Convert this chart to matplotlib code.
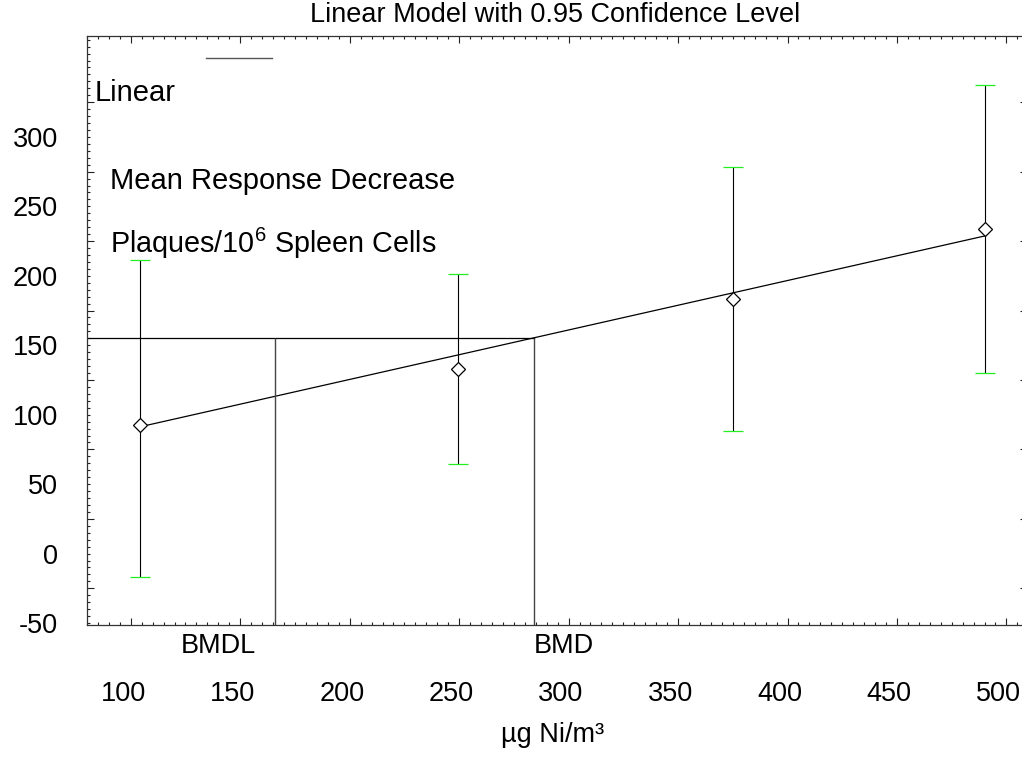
import numpy as np
import matplotlib
matplotlib.use('Agg')
import matplotlib.pyplot as plt

plt.rcParams['font.family'] = ['Liberation Sans', 'DejaVu Sans']
plt.rcParams['mathtext.fontset'] = 'custom'
plt.rcParams['mathtext.rm'] = 'Liberation Sans'
plt.rcParams['mathtext.default'] = 'regular'
plt.rcParams['axes.unicode_minus'] = False

# data
dose = [107.5, 253.1, 378.6, 493.6]
mean = [92.6, 132.9, 183.3, 233.7]
lower = [-16.9, 64.5, 88.3, 130.0]
upper = [211.4, 201.3, 278.4, 337.4]

fit_x = [107.5, 493.6]
fit_y = [91.2, 228.7]

bmdl = 169.6
bmd = 287.8
bmr_level = 155.3

xticks = [100, 150, 200, 250, 300, 350, 400, 450, 500]
yticks = [-50, 0, 50, 100, 150, 200, 250, 300]

fig = plt.figure(figsize=(10.22, 7.57), dpi=100)
ax = fig.add_axes([0.0851, 0.1744, 0.9198, 0.7781])
ax.set_xlim(83.8, 512.9)
ax.set_ylim(-51.4, 372.7)

dose = np.array(dose)
mean = np.array(mean)
yerr = [mean - np.array(lower), np.array(upper) - mean]

eb = ax.errorbar(dose, mean, yerr=yerr, fmt='D', mfc='white', mec='black',
                 ms=7.5, mew=0.9, ecolor='black', elinewidth=0.8,
                 capsize=7.2, capthick=0.9, zorder=3)
for cap in eb[1]:
    cap.set_markeredgecolor('#22ee22')

ax.plot(fit_x, fit_y, color='black', lw=0.9)

# BMD / BMDL markers
ax.plot([ax.get_xlim()[0], bmd], [bmr_level, bmr_level], color='black', lw=0.9)
ax.vlines([bmdl, bmd], ax.get_ylim()[0], bmr_level, color='#444444', lw=1.0)
ax.annotate('BMDL', xy=(bmdl, 0), xycoords=('data', 'axes fraction'),
            xytext=(-14, -15), textcoords='offset points',
            ha='right', va='center', fontsize=19.5)
ax.annotate('BMD', xy=(bmd, 0), xycoords=('data', 'axes fraction'),
            xytext=(0, -15), textcoords='offset points',
            ha='left', va='center', fontsize=19.5)

# legend-like text
ax.plot([0.127, 0.197], [0.9626, 0.9626], color='#555555', lw=1.0,
        transform=ax.transAxes)
ax.text(0.0085, 0.903, 'Linear', transform=ax.transAxes, fontsize=21,
        va='center', ha='left')
ax.text(0.0245, 0.754, 'Mean Response Decrease', transform=ax.transAxes,
        fontsize=21, va='center', ha='left')
ax.text(0.0245, 0.6486, 'Plaques/10$^{6}$ Spleen Cells', transform=ax.transAxes,
        fontsize=20.7, va='center', ha='left')

# tick marks (offset from the labels, as in the original)
ax.set_xticks(np.arange(103.5, 512, 50))
ax.set_xticks(np.arange(83.5, 512, 5), minor=True)
ax.set_yticks(np.arange(-25, 373, 50))
ax.set_yticks(np.arange(-50, 373, 5), minor=True)
ax.tick_params(which='both', direction='in', top=True, right=True,
               labelbottom=False, labelleft=False, color='#222222', width=0.8)
ax.tick_params(which='major', length=5)
ax.tick_params(which='minor', length=2.5, right=False)
for s in ax.spines.values():
    s.set_linewidth(0.9)
    s.set_color('#333333')
ax.spines['right'].set_visible(False)

# tick labels
secx = ax.secondary_xaxis('bottom')
secx.set_xticks(xticks)
secx.tick_params(length=0, pad=40, labelsize=19.5)
secx.spines['bottom'].set_visible(False)
secy = ax.secondary_yaxis('left')
secy.set_yticks(yticks)
secy.tick_params(length=0, pad=21, labelsize=19.5)
secy.spines['left'].set_visible(False)

fig.text(555.5 / 1022, 1 - 15 / 757, 'Linear Model with 0.95 Confidence Level',
         ha='center', va='center', fontsize=19.5)
fig.text(553 / 1022, 1 - 735 / 757, 'µg Ni/m³', ha='center', va='center',
         fontsize=19.5)

fig.savefig('out.png', dpi=100)
